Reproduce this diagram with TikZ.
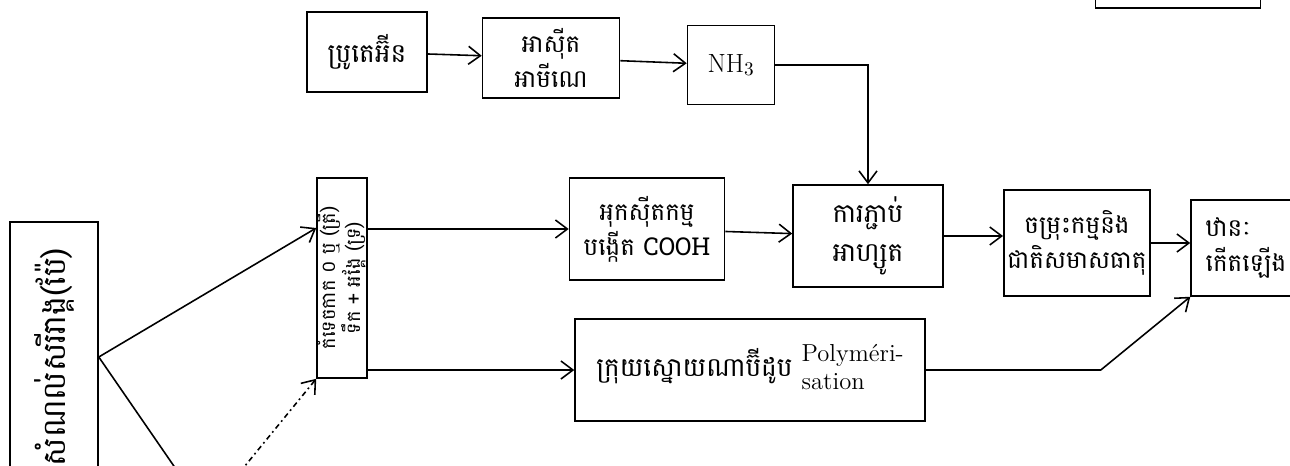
\documentclass[tikz,border=0pt]{standalone}
\usepackage{fontspec}
\newfontfamily\km[Script=Khmer]{Battambang}
\usetikzlibrary{arrows.meta, positioning}

\begin{document}
\begin{tikzpicture}[
  x=0.02cm, y=-0.02cm,
  block/.style={rectangle, draw=black, line width=0.9pt, fill=white,
                align=center, inner sep=2pt, font=\km\fontsize{14}{20}\selectfont},
  arrow/.style={->, >={Straight Barb[length=2.4mm, width=3.6mm]}, line width=0.9pt},
  dotarrow/.style={arrow, dash pattern=on 3pt off 2pt on 1pt off 2pt}
]
  \useasboundingbox (0,0) rectangle (1290,466);

  % top row
  \node (prot)  [block, minimum width=2.4cm, minimum height=1.6cm, font=\km\fontsize{15}{20}\selectfont] at (367,52) {ប្រូតេអ៊ីន};
  \node (amino) [block, minimum width=2.74cm, minimum height=1.6cm] at (551,58) {អាស៊ីត\\អាមីណេ};
  \node (nh3)   [block, minimum width=1.74cm, minimum height=1.58cm, font=\fontsize{15}{18}\selectfont] at (731,65) {NH$_3$};
  \node (topbox) [block, minimum width=3.3cm, minimum height=1.6cm] at (1178,-32) {};

  % middle row
  \node (oxid)  [block, minimum width=3.1cm, minimum height=2.04cm] at (647,229) {អុកស៊ីតកម្ម\\បង្កើត COOH};
  \node (bond)  [block, minimum width=3.0cm, minimum height=2.04cm, font=\km\fontsize{15}{22}\selectfont] at (868,236) {ការភ្ជាប់\\អាហ្សូត};
  \node (mix)   [block, minimum width=2.9cm, minimum height=2.12cm] at (1077,243) {ចម្រុះកម្មនិង\\ជាតិសមាសធាតុ};
  \node (final) [block, minimum width=2.2cm, minimum height=1.92cm, align=left] at (1246,248) {ឋានៈ\\កើតឡើង};

  % bottom row
  \node (poly)  [block, minimum width=7.0cm, minimum height=2.04cm, font=\km\fontsize{15}{20}\selectfont] at (750,370)
        {ក្រុយស្នោយណាប៊ីដូប\ \textrm{\fontsize{14}{16}\selectfont\begin{tabular}{@{}l@{}}Polyméri-\\sation\end{tabular}}};

  % vertical boxes
  \node (v2)    [block, minimum width=0.8cm, minimum height=4.0cm, inner sep=0pt] at (342,278)
        {\rotatebox{90}{\fontsize{11}{11.5}\selectfont\begin{tabular}{@{}c@{}}កំទេចកាក ០ ឬ (ត្រី)\\ទឹក + អង្គែ (ទ្រ)\end{tabular}}};
  \node (v1)    [block, minimum width=1.76cm, minimum height=5.4cm] at (54,357)
        {\rotatebox{90}{\fontsize{18}{20}\selectfont សំណល់សរីរាង្គ(ប៉ែ)}};

  \coordinate (stub1) at (178,472);
  \coordinate (stub2) at (240,472);

  \draw[arrow] (prot) -- (amino);
  \draw[arrow] (amino) -- (nh3);
  \draw[arrow] (nh3.east) -| (bond.north);
  \draw[arrow] (oxid) -- (bond);
  \draw[arrow] (bond.east) -- (bond.east -| mix.west);
  \draw[arrow] (mix.east) -- (mix.east -| final.west);
  \draw[arrow] (v2.east |- oxid.west) -- (oxid.west);
  \draw[arrow] (v2.east |- poly.west) -- (poly.west);
  \draw[arrow] (poly.east) -- ++(175,0) -- (final.south west);
  \draw[arrow] (v1.east) -- ([yshift=1cm]v2.west);
  \draw[line width=0.9pt] (v1.east) -- (stub1);
  \draw[dotarrow] (stub2) -- (v2.south west);
\end{tikzpicture}
\end{document}
